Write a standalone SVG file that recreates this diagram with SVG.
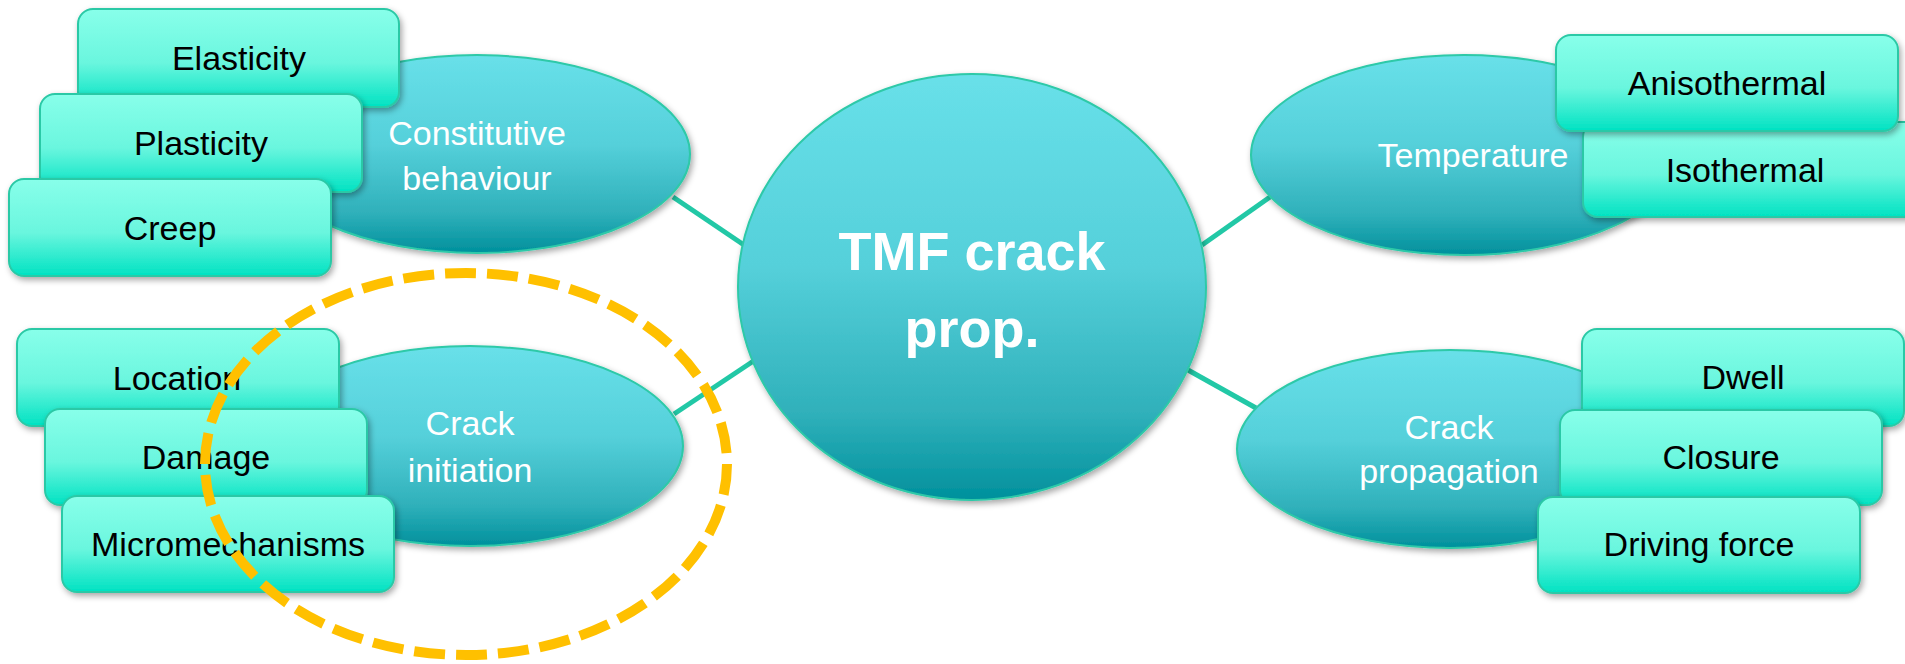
<svg xmlns="http://www.w3.org/2000/svg" width="1905" height="664" viewBox="0 0 1905 664">
<style>
.conn{stroke:#22C8A6;stroke-width:5;fill:none}
.ell{fill:url(#gEll);stroke:#2DC9A8;stroke-width:2;filter:url(#sh)}
.box{fill:url(#gBox);stroke:#2CC9A6;stroke-width:2;filter:url(#sh)}
.bt{font-family:"Liberation Sans",Arial,sans-serif;font-size:34px;fill:#000;text-anchor:middle}
.et{font-family:"Liberation Sans",Arial,sans-serif;font-size:34px;fill:#fff;text-anchor:middle}
.ct{font-family:"Liberation Sans",Arial,sans-serif;font-size:54px;font-weight:bold;fill:#fff;text-anchor:middle}
.hl{fill:none;stroke:#FFC000;stroke-width:10;stroke-dasharray:31 11}
</style>
<defs>
<linearGradient id="gEll" x1="0" y1="0" x2="0" y2="1">
<stop offset="0" stop-color="#68E0E9"/>
<stop offset="0.45" stop-color="#55D0DA"/>
<stop offset="0.8" stop-color="#2FB0BA"/>
<stop offset="1" stop-color="#00909C"/>
</linearGradient>
<linearGradient id="gBox" x1="0" y1="0" x2="0" y2="1">
<stop offset="0" stop-color="#88FFEA"/>
<stop offset="0.55" stop-color="#6AF6DE"/>
<stop offset="1" stop-color="#00E2C2"/>
</linearGradient>
<filter id="sh" x="-10%" y="-10%" width="125%" height="130%">
<feDropShadow dx="2" dy="3" stdDeviation="3" flood-color="#000" flood-opacity="0.35"/>
</filter>
</defs>
<g id="connectors">
<line class="conn" x1="673" y1="197" x2="744" y2="245"/>
<line class="conn" x1="674" y1="414" x2="755" y2="360"/>
<line class="conn" x1="1202" y1="245" x2="1270" y2="197"/>
<line class="conn" x1="1188" y1="370" x2="1256" y2="408"/>
</g>
<g id="center">
<ellipse class="ell" cx="972" cy="287" rx="234" ry="213"/>
<text class="ct" x="972" y="270">TMF crack</text>
<text class="ct" x="972" y="347">prop.</text>
</g>
<g id="constitutive">
<ellipse class="ell" cx="477" cy="154" rx="213" ry="99"/>
<text class="et" x="477" y="145">Constitutive</text>
<text class="et" x="477" y="190">behaviour</text>
</g>
<g id="initiation">
<ellipse class="ell" cx="470" cy="446" rx="213" ry="100"/>
<text class="et" x="470" y="435">Crack</text>
<text class="et" x="470" y="482">initiation</text>
</g>
<g id="temperature">
<ellipse class="ell" cx="1464" cy="155" rx="213" ry="100"/>
<text class="et" x="1473" y="167">Temperature</text>
</g>
<g id="propagation">
<ellipse class="ell" cx="1450" cy="449" rx="213" ry="99"/>
<text class="et" x="1449" y="439">Crack</text>
<text class="et" x="1449" y="483">propagation</text>
</g>
<g id="elasticity">
<rect class="box" x="78" y="9" width="321" height="98" rx="15"/>
<text class="bt" x="239" y="70">Elasticity</text>
</g>
<g id="plasticity">
<rect class="box" x="40" y="94" width="322" height="98" rx="15"/>
<text class="bt" x="201" y="155">Plasticity</text>
</g>
<g id="creep">
<rect class="box" x="9" y="179" width="322" height="97" rx="15"/>
<text class="bt" x="170" y="240">Creep</text>
</g>
<g id="location">
<rect class="box" x="17" y="329" width="322" height="97" rx="15"/>
<text class="bt" x="177" y="390">Location</text>
</g>
<g id="damage">
<rect class="box" x="45" y="409" width="322" height="96" rx="15"/>
<text class="bt" x="206" y="469">Damage</text>
</g>
<g id="micromechanisms">
<rect class="box" x="62" y="496" width="332" height="96" rx="15"/>
<text class="bt" x="228" y="556">Micromechanisms</text>
</g>
<g id="isothermal">
<rect class="box" x="1583" y="122" width="342" height="95" rx="15"/>
<text class="bt" x="1745" y="182">Isothermal</text>
</g>
<g id="anisothermal">
<rect class="box" x="1556" y="35" width="342" height="96" rx="15"/>
<text class="bt" x="1727" y="95">Anisothermal</text>
</g>
<g id="dwell">
<rect class="box" x="1582" y="329" width="322" height="97" rx="15"/>
<text class="bt" x="1743" y="389">Dwell</text>
</g>
<g id="closure">
<rect class="box" x="1560" y="410" width="322" height="95" rx="15"/>
<text class="bt" x="1721" y="469">Closure</text>
</g>
<g id="drivingforce">
<rect class="box" x="1538" y="497" width="322" height="96" rx="15"/>
<text class="bt" x="1699" y="556">Driving force</text>
</g>
<g id="highlight">
<ellipse class="hl" cx="466" cy="464" rx="261" ry="191"/>
</g>
</svg>
